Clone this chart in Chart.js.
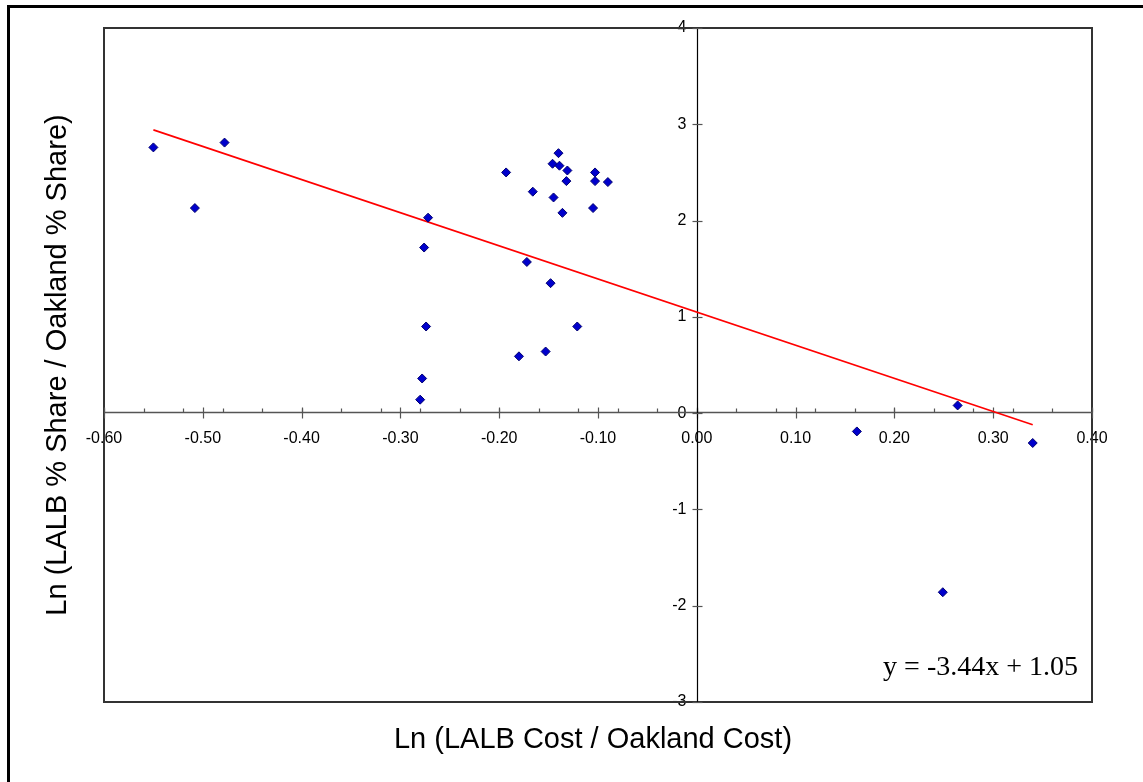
<!DOCTYPE html>
<html><head><meta charset="utf-8">
<script src="https://cdn.jsdelivr.net/npm/chart.js@4.4.0/dist/chart.umd.min.js"></script>
<style>html,body{margin:0;padding:0;background:#fff;overflow:hidden}#wrap{position:relative;width:1143px;height:782px}</style>
</head><body><div id="wrap"><canvas id="c" width="1143" height="782"></canvas></div>
<script>
// ---- data ----
const costRatioLn = [-0.550,-0.508,-0.478,-0.272,-0.276,-0.274,-0.278,-0.280,-0.193,-0.166,-0.172,-0.146,-0.139,-0.140,-0.131,-0.132,-0.145,-0.136,-0.148,-0.103,-0.103,-0.090,-0.105,-0.121,-0.180,-0.153,0.264,0.162,0.340,0.249];
const shareRatioLn = [2.76,2.13,2.81,2.03,1.72,0.90,0.36,0.14,2.50,2.30,1.57,2.59,2.57,2.70,2.52,2.41,2.24,2.08,1.35,2.50,2.41,2.40,2.13,0.90,0.59,0.64,0.08,-0.19,-0.31,-1.86];
const xTickValues = [-0.6,-0.5,-0.4,-0.3,-0.2,-0.1,0.0,0.1,0.2,0.3,0.4];
const xTickLabels = ['-0.60','-0.50','-0.40','-0.30','-0.20','-0.10','0.00','0.10','0.20','0.30','0.40'];
const yTickValues = [-3,-2,-1,0,1,2,3,4];
const yTickLabels = ['-3','-2','-1','0','1','2','3','4'];
const xMinorStep = 0.04;
const trendSlope = -3.44;
const trendIntercept = 1.05;
const xTitle = 'Ln (LALB Cost / Oakland Cost)';
const yTitle = 'Ln (LALB % Share / Oakland % Share)';
const equationText = 'y = -3.44x + 1.05';

const points = costRatioLn.map((x, i) => ({x: x, y: shareRatioLn[i]}));
const xMin = Math.min(...costRatioLn), xMax = Math.max(...costRatioLn);
const trendPoints = [xMin, xMax].map(x => ({x: x, y: trendSlope * x + trendIntercept}));

const decor = {
  id: 'decor',
  beforeDatasetsDraw(chart) {
    const ctx = chart.ctx, xs = chart.scales.x, ys = chart.scales.y, a = chart.chartArea;
    const ax = Math.round(xs.getPixelForValue(0)) + 0.5;
    const ay = Math.round(ys.getPixelForValue(0)) - 0.5;
    ctx.save();
    // tick labels
    ctx.fillStyle = '#000';
    ctx.font = '16px "Liberation Sans", Arial, sans-serif';
    ctx.textAlign = 'center'; ctx.textBaseline = 'alphabetic';
    xTickValues.forEach((v, i) => ctx.fillText(xTickLabels[i], xs.getPixelForValue(v), ay + 30));
    ctx.textAlign = 'right'; ctx.textBaseline = 'middle';
    yTickValues.forEach((v, i) => ctx.fillText(yTickLabels[i], ax - 11, ys.getPixelForValue(v)));
    // plot border
    ctx.strokeStyle = '#333'; ctx.lineWidth = 2;
    ctx.strokeRect(a.left, a.top, a.right - a.left, a.bottom - a.top);
    // x axis
    ctx.strokeStyle = '#555'; ctx.lineWidth = 1.5;
    ctx.beginPath(); ctx.moveTo(a.left, ay); ctx.lineTo(a.right, ay); ctx.stroke();
    ctx.lineWidth = 1.2;
    xTickValues.forEach(v => { const p = Math.round(xs.getPixelForValue(v)) + 0.5; ctx.beginPath(); ctx.moveTo(p, ay - 5); ctx.lineTo(p, ay + 6); ctx.stroke(); });
    for (let v = xs.min; v <= xs.max + 1e-9; v += xMinorStep) {
      const p = Math.round(xs.getPixelForValue(v)) + 0.5; ctx.beginPath(); ctx.moveTo(p, ay - 4); ctx.lineTo(p, ay); ctx.stroke();
    }
    // y axis
    ctx.strokeStyle = '#000'; ctx.lineWidth = 1.2;
    ctx.beginPath(); ctx.moveTo(ax, a.top); ctx.lineTo(ax, a.bottom); ctx.stroke();
    ctx.strokeStyle = '#555';
    yTickValues.forEach(v => { const p = Math.round(ys.getPixelForValue(v)) + 0.5; ctx.beginPath(); ctx.moveTo(ax - 5, p); ctx.lineTo(ax + 5, p); ctx.stroke(); });
    ctx.restore();
  },
  afterDraw(chart) {
    const ctx = chart.ctx, a = chart.chartArea;
    ctx.save();
    ctx.fillStyle = '#000';
    ctx.font = '29px "Liberation Sans", Arial, sans-serif';
    ctx.textAlign = 'center'; ctx.textBaseline = 'middle';
    ctx.fillText(xTitle, (a.left + a.right) / 2 - 5, 740);
    ctx.translate(58, (a.top + a.bottom) / 2); ctx.rotate(-Math.PI / 2);
    ctx.fillText(yTitle, 0, 0);
    ctx.restore();
    ctx.save();
    ctx.fillStyle = '#000';
    ctx.font = '28px "Liberation Serif", "Times New Roman", serif';
    ctx.textAlign = 'right'; ctx.textBaseline = 'alphabetic';
    ctx.fillText(equationText, 1078, 675);
    // outer frame (top & left visible)
    ctx.fillRect(7, 5, 3, 800);
    ctx.fillRect(7, 5, 1200, 3);
    ctx.restore();
  }
};

new Chart(document.getElementById('c'), {
  type: 'scatter',
  data: {
    datasets: [
      { label: 'data', data: points, pointStyle: 'rectRot', pointRadius: 4.5, pointHoverRadius: 4.5,
        backgroundColor: '#0000cc', borderColor: '#000070', borderWidth: 1, showLine: false },
      { label: 'trend', type: 'line', data: trendPoints, borderColor: '#ff0000', borderWidth: 1.6,
        pointRadius: 0, fill: false, tension: 0 }
    ]
  },
  options: {
    responsive: false, animation: false, devicePixelRatio: 1,
    layout: { padding: { left: 104, top: 28, right: 51, bottom: 80 } },
    scales: {
      x: { type: 'linear', min: -0.6, max: 0.4, display: false },
      y: { type: 'linear', min: -3, max: 4, display: false }
    },
    plugins: { legend: { display: false }, tooltip: { enabled: false } }
  },
  plugins: [decor]
});
</script></body></html>
